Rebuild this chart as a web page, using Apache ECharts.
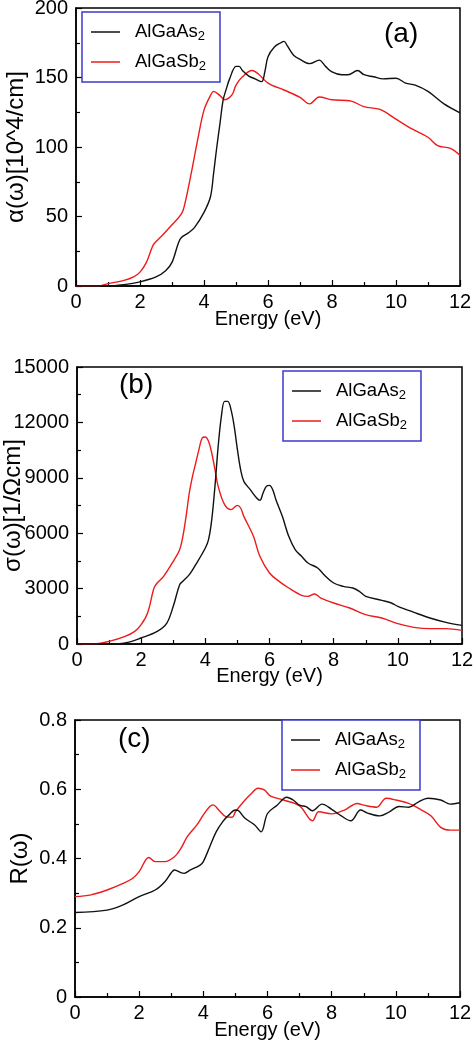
<!DOCTYPE html>
<html>
<head>
<meta charset="utf-8">
<script src="https://cdn.jsdelivr.net/npm/echarts@6/dist/echarts.min.js"></script>
<style>
html,body{margin:0;padding:0;background:#fff;}
#chart{width:474px;height:1043px;}
</style>
</head>
<body>
<div id="chart"></div>
<script>
// ---------- Data ----------
const seriesNames = ['AlGaAs2', 'AlGaSb2'];
const xTicks = [0, 2, 4, 6, 8, 10, 12];

// (a) absorption alpha(omega) [10^4/cm]
const absAsE = [0, 1.0, 1.5, 2.0, 2.5, 2.8, 3.0, 3.2, 3.3, 3.5, 3.7, 4.0, 4.2, 4.3, 4.4, 4.5, 4.6, 4.7, 4.8, 5.0, 5.1, 5.2, 5.4, 5.6, 5.8, 5.9, 6.0, 6.2, 6.4, 6.5, 6.6, 6.8, 7.0, 7.3, 7.6, 7.8, 8.0, 8.3, 8.5, 8.8, 9.0, 9.3, 9.6, 10.0, 10.3, 10.6, 11.0, 11.5, 12.0];
const absAsV = [0, 0, 1, 3, 6.5, 11, 17, 31, 35, 38, 42, 53, 64, 81, 100, 117, 134, 142, 149, 158, 158, 155, 151, 149, 147, 154, 165, 172, 175, 176, 173, 166, 163, 160, 162.5, 158, 154, 152, 152, 155, 152, 150.5, 149, 149.5, 146, 144.5, 140, 131, 124.6];
const absSbE = [0, 0.7, 1.0, 1.5, 1.8, 2.0, 2.2, 2.4, 2.5, 2.7, 3.0, 3.3, 3.4, 3.6, 3.8, 4.0, 4.2, 4.3, 4.5, 4.65, 4.8, 4.9, 5.0, 5.2, 5.5, 5.7, 6.0, 6.5, 7.0, 7.3, 7.6, 8.0, 8.6, 9.0, 9.5, 10.0, 10.5, 11.0, 11.3, 11.7, 12.0];
const absSbV = [0, 0, 1.7, 4, 6.5, 10, 17, 29, 32, 36.5, 44, 52, 59, 81, 105, 126.5, 137, 140, 137, 134, 135.7, 138.5, 144.5, 150.5, 155, 152.5, 146, 141, 135.7, 131, 136, 134, 133, 129, 127, 120, 113, 107, 101, 99, 94];

// (b) optical conductivity sigma(omega) [1/(Ohm cm)]
const condAsE = [0, 1.0, 1.5, 2.0, 2.5, 2.8, 3.0, 3.2, 3.3, 3.5, 3.7, 4.0, 4.1, 4.2, 4.3, 4.4, 4.5, 4.6, 4.7, 4.8, 4.9, 5.0, 5.1, 5.2, 5.4, 5.6, 5.7, 5.8, 5.9, 6.0, 6.1, 6.2, 6.4, 6.6, 6.8, 7.0, 7.2, 7.5, 7.7, 8.0, 8.3, 8.6, 8.8, 9.0, 9.5, 9.8, 10.0, 10.5, 11.0, 11.5, 12.0];
const condAsV = [0, 0, 54, 325, 686, 1137, 2040, 3213, 3393, 3754, 4296, 5198, 5650, 6733, 8538, 10704, 12328, 13140, 13140, 12690, 11787, 10523, 9440, 8808, 8357, 7906, 7780, 8177, 8538, 8592, 8357, 7816, 6913, 5830, 5108, 4747, 4386, 4115, 3754, 3303, 3123, 3032, 2852, 2581, 2365, 2220, 2040, 1715, 1408, 1173, 1011];
const condSbE = [0, 0.5, 1.0, 1.5, 1.8, 2.0, 2.2, 2.4, 2.5, 2.7, 3.0, 3.2, 3.3, 3.4, 3.5, 3.6, 3.7, 3.8, 3.9, 4.0, 4.1, 4.2, 4.3, 4.4, 4.6, 4.8, 5.0, 5.1, 5.2, 5.5, 5.7, 6.0, 6.3, 6.6, 7.0, 7.2, 7.4, 7.6, 8.0, 8.5, 9.0, 9.5, 10.0, 10.5, 11.0, 11.5, 12.0];
const condSbV = [0, 0, 144, 415, 686, 1047, 1679, 3032, 3303, 3664, 4476, 5108, 5830, 6913, 8177, 9079, 9801, 10523, 11155, 11209, 10974, 10343, 9440, 8538, 7545, 7274, 7509, 7364, 6913, 5830, 4747, 3845, 3393, 3032, 2635, 2581, 2707, 2490, 2220, 1950, 1588, 1408, 1101, 902, 830, 830, 740];

// (c) reflectivity R(omega)
const reflAsE = [0, 1.0, 1.5, 2.0, 2.5, 2.8, 3.0, 3.1, 3.3, 3.4, 3.6, 3.9, 4.0, 4.2, 4.4, 4.6, 4.8, 5.0, 5.1, 5.3, 5.6, 5.8, 6.0, 6.3, 6.6, 6.8, 7.0, 7.2, 7.4, 7.7, 8.0, 8.3, 8.6, 8.9, 9.1, 9.5, 9.8, 10.1, 10.4, 10.7, 11.0, 11.4, 11.7, 12.0];
const reflAsV = [0.244, 0.251, 0.266, 0.29, 0.309, 0.333, 0.359, 0.367, 0.359, 0.357, 0.367, 0.381, 0.391, 0.434, 0.477, 0.506, 0.526, 0.54, 0.538, 0.516, 0.497, 0.477, 0.53, 0.554, 0.577, 0.569, 0.554, 0.55, 0.538, 0.557, 0.542, 0.523, 0.509, 0.54, 0.532, 0.523, 0.535, 0.55, 0.548, 0.563, 0.574, 0.569, 0.557, 0.561];
const reflSbE = [0, 0.5, 1.0, 1.5, 1.8, 2.0, 2.3, 2.5, 2.8, 3.1, 3.3, 3.5, 3.8, 4.0, 4.2, 4.3, 4.5, 4.7, 4.9, 5.0, 5.3, 5.5, 5.7, 5.9, 6.1, 6.5, 7.0, 7.4, 7.6, 8.0, 8.4, 8.8, 9.0, 9.4, 9.7, 10.0, 10.4, 10.8, 11.1, 11.4, 11.7, 12.0];
const reflSbV = [0.29, 0.295, 0.309, 0.328, 0.343, 0.362, 0.403, 0.391, 0.391, 0.405, 0.429, 0.463, 0.497, 0.526, 0.55, 0.555, 0.538, 0.521, 0.519, 0.535, 0.569, 0.588, 0.603, 0.598, 0.58, 0.569, 0.552, 0.509, 0.535, 0.529, 0.54, 0.559, 0.554, 0.548, 0.574, 0.569, 0.559, 0.54, 0.523, 0.49, 0.482, 0.482];

const panelLabels = ['(a)', '(b)', '(c)'];
const yNames = ['α(ω)[10^4/cm]', 'σ(ω)[1/Ωcm]', 'R(ω)'];
const xName = 'Energy (eV)';

// ---------- Build ----------
const zip = (xs, ys) => xs.map((x, i) => [x, ys[i]]);
const FONT = '"Liberation Sans", Arial, Helvetica, sans-serif';
const BLACK = '#111111';
const RED = '#ee1b1b';

const grids = [
  {left: 76, top: 8, width: 384, height: 278},
  {left: 77, top: 367, width: 385, height: 277},
  {left: 75, top: 720, width: 385, height: 277}
];
const yCfg = [
  {min: 0, max: 200, interval: 50, gap: 48, fmt: v => String(v)},
  {min: 0, max: 15000, interval: 3000, gap: 52, fmt: v => String(v)},
  {min: 0, max: 0.8, interval: 0.2, gap: 43, fmt: v => (v === 0 ? '0' : v.toFixed(1))}
];
const xNameGaps = [23, 22, 23];

const xAxes = grids.map((g, i) => ({
  type: 'value', gridIndex: i, min: 0, max: 12, interval: 2,
  name: xName, nameLocation: 'middle', nameGap: xNameGaps[i], nameMoveOverlap: false,
  nameTextStyle: {fontFamily: FONT, fontSize: 20, color: '#000'},
  axisLine: {show: true, onZero: false, lineStyle: {color: '#000', width: 1.5}},
  axisTick: {show: true, inside: true, length: 6, lineStyle: {color: '#000', width: 1.2}},
  minorTick: {show: true, splitNumber: 2, length: 4, lineStyle: {color: '#000', width: 1.2}},
  axisLabel: {fontFamily: FONT, fontSize: 20, color: '#000', margin: 6},
  splitLine: {show: false}
}));
const yAxes = grids.map((g, i) => ({
  type: 'value', gridIndex: i, min: yCfg[i].min, max: yCfg[i].max, interval: yCfg[i].interval,
  name: yNames[i], nameLocation: 'middle', nameGap: yCfg[i].gap, nameMoveOverlap: false,
  nameTextStyle: {fontFamily: FONT, fontSize: 24, color: '#000'},
  axisLine: {show: true, onZero: false, lineStyle: {color: '#000', width: 1.5}},
  axisTick: {show: true, inside: true, length: 6, lineStyle: {color: '#000', width: 1.2}},
  minorTick: {show: true, splitNumber: 2, length: 4, lineStyle: {color: '#000', width: 1.2}},
  axisLabel: {fontFamily: FONT, fontSize: 20, color: '#000', margin: 8, formatter: yCfg[i].fmt},
  splitLine: {show: false}
}));

const dataSets = [
  [zip(absAsE, absAsV), zip(absSbE, absSbV)],
  [zip(condAsE, condAsV), zip(condSbE, condSbV)],
  [zip(reflAsE, reflAsV), zip(reflSbE, reflSbV)]
];
const series = [];
dataSets.forEach((pair, i) => {
  pair.forEach((d, j) => {
    series.push({
      type: 'line', name: seriesNames[j], xAxisIndex: i, yAxisIndex: i,
      data: d, symbol: 'none', smooth: 0.35, color: j === 0 ? BLACK : RED,
      lineStyle: {width: 1.4, color: j === 0 ? BLACK : RED}, z: j === 0 ? 3 : 2
    });
  });
});

const legendPos = [
  {left: 82, top: 12},
  {left: 283, top: 371},
  {left: 282, top: 720}
];
const legends = legendPos.map(p => ({
  data: seriesNames, left: p.left, top: p.top, orient: 'vertical',
  icon: 'rect', itemWidth: 29, itemHeight: 1.5, itemGap: 8,
  padding: [9, 14, 9, 9], backgroundColor: '#fff',
  borderColor: '#3a3acc', borderWidth: 1.5, borderRadius: 0,
  selectedMode: false,
  formatter: n => '{a|' + n.slice(0, -1) + '}{s|' + n.slice(-1) + '}',
  textStyle: {
    lineHeight: 22,
    rich: {
      a: {fontFamily: FONT, fontSize: 18.5, color: '#000', lineHeight: 22, padding: [0, 0, 0, 10]},
      s: {fontFamily: FONT, fontSize: 13, color: '#000', lineHeight: 13, verticalAlign: 'bottom'}
    }
  }
}));

const labelPos = [[401, 36], [136, 387], [135, 741]];
const graphic = panelLabels.map((t, i) => ({
  type: 'text', left: labelPos[i][0] - 17, top: labelPos[i][1] - 16,
  style: {text: t, fontFamily: FONT, fontSize: 28, fill: '#000'}
}));

const chart = echarts.init(document.getElementById('chart'), null, {renderer: 'canvas'});
chart.setOption({
  backgroundColor: '#fff',
  animation: false,
  grid: grids.map(g => Object.assign({show: true, borderColor: '#000', borderWidth: 1.5, backgroundColor: 'transparent', containLabel: false, outerBoundsMode: 'none'}, g)),
  xAxis: xAxes,
  yAxis: yAxes,
  legend: legends,
  series: series,
  graphic: graphic
});
</script>
</body>
</html>
